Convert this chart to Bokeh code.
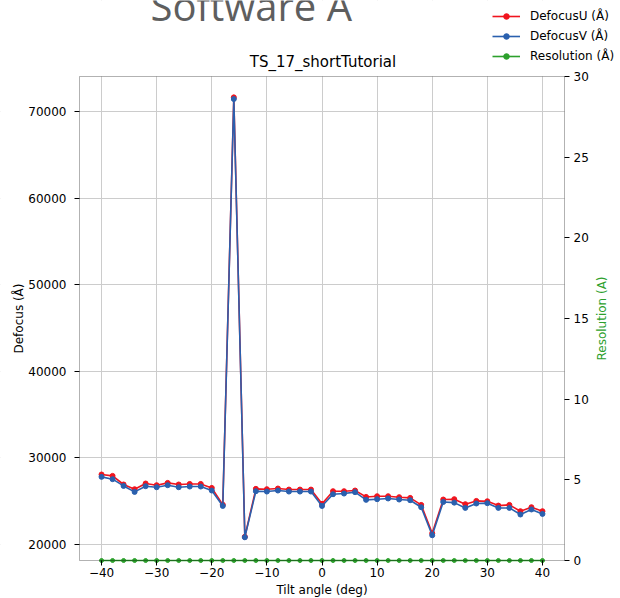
import math
from bokeh.plotting import figure
from bokeh.models import (Range1d, LinearAxis, Legend, LegendItem, Label,
                          FixedTicker, CustomJSTickFormatter, BoxAnnotation)
from bokeh.embed import file_html
from bokeh.resources import INLINE

# ---- data ----
tilt_deg = [-40, -38, -36, -34, -32, -30, -28, -26, -24, -22, -20, -18, -16, -14,
            -12, -10, -8, -6, -4, -2, 0, 2, 4, 6, 8, 10, 12, 14, 16, 18, 20, 22,
            24, 26, 28, 30, 32, 34, 36, 38, 40]
defocus_u = [28090, 27930, 26935, 26390, 27050, 26855, 27120, 26935, 27000, 27000,
             26540, 24600, 71630, 20900, 26430, 26390, 26470, 26350, 26350, 26350,
             24700, 26160, 26160, 26240, 25500, 25580, 25580, 25470, 25390, 24580,
             21300, 25200, 25240, 24660, 25040, 25000, 24500, 24580, 23850, 24310,
             23850]
defocus_v = [27815, 27550, 26770, 26080, 26740, 26620, 26855, 26620, 26700, 26700,
             26240, 24460, 71440, 20840, 26160, 26120, 26240, 26120, 26120, 26120,
             24460, 25810, 25890, 26050, 25160, 25240, 25320, 25200, 25120, 24310,
             21075, 24920, 24840, 24230, 24740, 24780, 24230, 24230, 23470, 24050,
             23540]
resolution = [0.0, 0.0, 0.0, 0.0, 0.0, 0.0, 0.0, 0.0, 0.0, 0.0, 0.0, 0.0, 0.0, 0.0,
              0.0, 0.0, 0.0, 0.0, 0.0, 0.0, 0.0, 0.0, 0.0, 0.0, 0.0, 0.0, 0.0, 0.0,
              0.0, 0.0, 0.0, 0.0, 0.0, 0.0, 0.0, 0.0, 0.0, 0.0, 0.0, 0.0, 0.0]

x_ticks = [-40, -30, -20, -10, 0, 10, 20, 30, 40]
y_ticks = [20000, 30000, 40000, 50000, 60000, 70000]
y2_ticks = [0, 5, 10, 15, 20, 25, 30]
x_lim = (-44, 44)
y_lim = (18160, 74040)
y2_lim = (0, 30)

page_heading = "Software A"
chart_title = "TS_17_shortTutorial"
x_label = "Tilt angle (deg)"
y_label = "Defocus (Å)"
y2_label = "Resolution (A)"
series_labels = ["DefocusU (Å)", "DefocusV (Å)", "Resolution (Å)"]

# ---- layout (pixels); the frame covers the whole canvas, the axes box sits inside ----
W, H = 620, 598
BOX_L, BOX_R, BOX_T, BOX_B = 79, 564, 76, 560


def extend(lo, hi, px_lo, px_hi, px_before, px_after):
    per_px = (hi - lo) / (px_hi - px_lo)
    return lo - px_before * per_px, hi + px_after * per_px


x_full = extend(*x_lim, BOX_L, BOX_R, BOX_L, W - BOX_R)
y_full = extend(*y_lim, BOX_T, BOX_B, H - BOX_B, BOX_T)
y2_full = extend(*y2_lim, BOX_T, BOX_B, H - BOX_B, BOX_T)

FONT = "DejaVu Sans"
RED = "#f0141e"
BLUE = "#2a60ae"
GREEN = "#2ca02c"
TICK_FS = "12px"

p = figure(width=W, height=H, output_backend="svg", toolbar_location=None,
           x_range=Range1d(*x_full), y_range=Range1d(*y_full),
           min_border=0, min_border_left=0, min_border_right=0, min_border_top=0,
           min_border_bottom=0, background_fill_color="white",
           border_fill_color="white")
p.title_location = None
p.outline_line_color = None

minus_fmt = CustomJSTickFormatter(code="return tick < 0 ? '\\u2212' + Math.abs(tick) : String(tick);")

xaxis = p.xaxis[0]
yaxis = p.yaxis[0]
xaxis.ticker = FixedTicker(ticks=x_ticks)
xaxis.formatter = minus_fmt
xaxis.bounds = x_lim
xaxis.fixed_location = y_lim[0]
yaxis.ticker = FixedTicker(ticks=y_ticks)
yaxis.bounds = y_lim
yaxis.fixed_location = x_lim[0]

p.extra_y_ranges = {"res": Range1d(*y2_full)}
raxis = LinearAxis(y_range_name="res", ticker=FixedTicker(ticks=y2_ticks),
                   bounds=y2_lim, fixed_location=x_lim[1])
p.add_layout(raxis, "right")

for ax in [xaxis, yaxis, raxis]:
    ax.axis_line_color = None
    ax.major_tick_line_color = "black"
    ax.minor_tick_line_color = None
    ax.major_tick_out = 5
    ax.major_tick_in = 0
    ax.major_label_text_font = FONT
    ax.major_label_text_font_size = TICK_FS
    ax.major_label_text_color = "black"

xaxis.major_label_standoff = 2
yaxis.major_label_standoff = 8
raxis.major_label_standoff = 4

p.xgrid.ticker = FixedTicker(ticks=x_ticks)
p.ygrid.ticker = FixedTicker(ticks=y_ticks)
p.grid.grid_line_color = "#cccccc"
p.grid.grid_line_width = 1

# white masks hide the grid outside the axes box
for kw in [dict(bottom=y_lim[1]), dict(top=y_lim[0]),
           dict(right=x_lim[0]), dict(left=x_lim[1])]:
    p.add_layout(BoxAnnotation(fill_color="white", fill_alpha=1.0, line_alpha=0,
                               level="underlay", **kw))

lu = p.line(tilt_deg, defocus_u, line_color=RED, line_width=1.6)
su = p.scatter(tilt_deg, defocus_u, size=5, fill_color=RED, line_color=RED)
lv = p.line(tilt_deg, defocus_v, line_color=BLUE, line_width=1.6)
sv = p.scatter(tilt_deg, defocus_v, size=5, fill_color=BLUE, line_color=BLUE)
lr = p.line(tilt_deg, resolution, line_color=GREEN, line_width=1.6, y_range_name="res")
sr = p.scatter(tilt_deg, resolution, size=4, fill_color=GREEN, line_color=GREEN,
               y_range_name="res")

# the axes box (spines)
p.add_layout(BoxAnnotation(left=x_lim[0], right=x_lim[1], bottom=y_lim[0],
                           top=y_lim[1], fill_alpha=0, line_color="black",
                           line_width=1))

legend = Legend(items=[LegendItem(label=series_labels[0], renderers=[lu, su]),
                       LegendItem(label=series_labels[1], renderers=[lv, sv]),
                       LegendItem(label=series_labels[2], renderers=[lr, sr])],
                location=(492, H - 63), padding=0, margin=0, spacing=6,
                glyph_width=28, glyph_height=14, label_height=14,
                label_standoff=10, label_text_font=FONT,
                label_text_font_size=TICK_FS, label_text_color="black",
                border_line_alpha=0, background_fill_alpha=0)
p.add_layout(legend)


def screen_label(text, x, y, **kw):
    opts = dict(x_units="screen", y_units="screen", text_font=FONT,
                text_font_size=TICK_FS, text_color="black", text_align="center",
                text_baseline="middle")
    opts.update(kw)
    p.add_layout(Label(x=x, y=H - y, text=text, **opts))


box_cx = (BOX_L + BOX_R) / 2
box_cy = (BOX_T + BOX_B) / 2
screen_label(chart_title, box_cx + 1, 61, text_font_size="15px",
             text_baseline="alphabetic")
screen_label(page_heading, 150, 5, text_font="Open Sans", text_font_size="40px",
             text_color="#5e5e5e", text_align="left", text_baseline="alphabetic")
screen_label(x_label, box_cx, 589)
screen_label(y_label, 18, box_cy, angle=math.pi / 2)
screen_label(y2_label, 601, box_cy, angle=math.pi / 2, text_color=GREEN)

open("out.html", "w").write(file_html(p, INLINE))
